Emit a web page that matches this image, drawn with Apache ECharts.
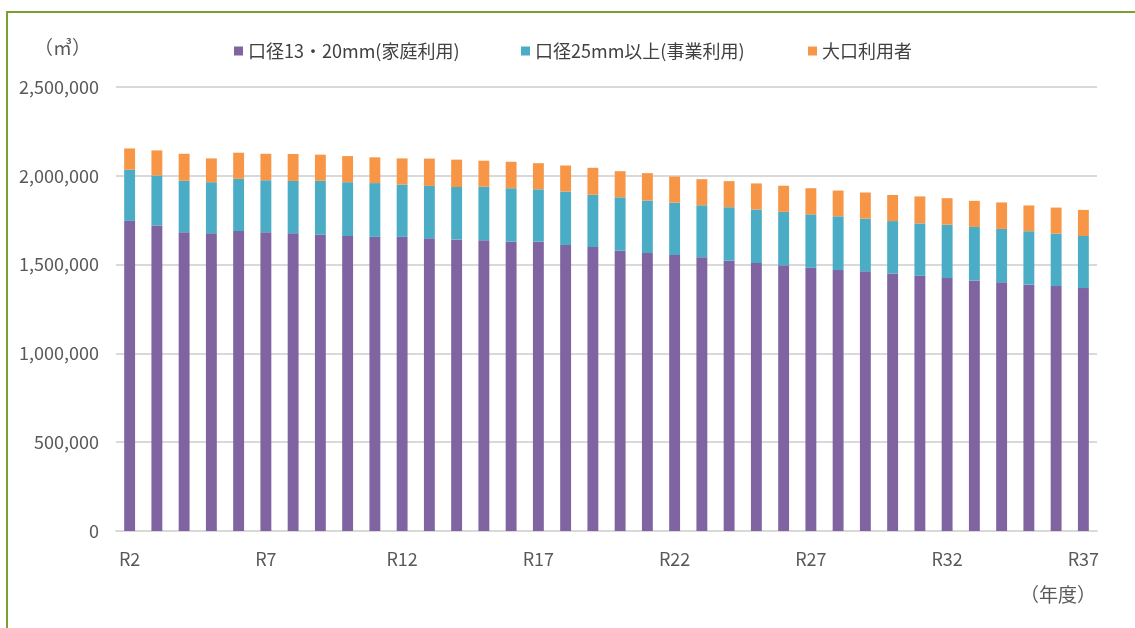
<!DOCTYPE html>
<html>
<head>
<meta charset="utf-8">
<script src="https://cdn.jsdelivr.net/npm/echarts@6/dist/echarts.min.js"></script>
<style>
  html, body { margin: 0; padding: 0; background: #fff; }
  #chart-container { width: 1135px; height: 628px; }
</style>
</head>
<body>
<div id="chart-container"></div>
<script>
// 年度 R2〜R37
const years = [];
for (let i = 2; i <= 37; i++) years.push("R" + i);

// 口径13・20mm(家庭利用)
const homeUse = [
  1746000, 1720000, 1682000, 1676000, 1689000, 1682000, 1676000, 1669000, 1661000, 1656000,
  1656000, 1648000, 1642000, 1637000, 1629000, 1629000, 1610000, 1599000, 1578000, 1565000,
  1554000, 1541000, 1522000, 1509000, 1496000, 1482000, 1469000, 1462000, 1450000, 1437000,
  1424000, 1411000, 1400000, 1387000, 1379000, 1368000
];
// 口径25mm以上(事業利用)
const businessUse = [
  288000, 282000, 290000, 288000, 294000, 293000, 295000, 303000, 303000, 303000,
  295000, 295000, 295000, 301000, 301000, 295000, 301000, 294000, 301000, 296000,
  295000, 293000, 301000, 301000, 301000, 301000, 303000, 297000, 295000, 295000,
  301000, 301000, 301000, 301000, 295000, 293000
];
// 大口利用者
const largeUse = [
  120000, 141000, 152000, 134000, 147000, 149000, 152000, 147000, 147000, 145000,
  147000, 154000, 154000, 147000, 149000, 147000, 147000, 152000, 147000, 154000,
  147000, 147000, 147000, 147000, 147000, 147000, 145000, 147000, 147000, 152000,
  149000, 147000, 149000, 145000, 147000, 147000
];

const seriesNames = ["口径13・20mm(家庭利用)", "口径25mm以上(事業利用)", "大口利用者"];
const colors = ["#8064A2", "#4BACC6", "#F79646"];
const legendLeft = [229, 516, 803];
const font = "'Noto Sans CJK JP', 'Noto Sans', sans-serif";

const chart = echarts.init(document.getElementById("chart-container"));

const option = {
  animation: false,
  color: colors,
  textStyle: { fontFamily: font },
  // 凡例は項目ごとに位置を合わせる
  legend: seriesNames.map((name, i) => ({
    top: 37,
    left: legendLeft[i],
    itemWidth: 9,
    itemHeight: 9,
    icon: "rect",
    textStyle: { color: "#404040", fontSize: 18, fontFamily: font },
    data: [name],
  })),
  grid: {
    left: 116,
    right: 38,
    top: 87,
    bottom: 97,
  },
  xAxis: {
    type: "category",
    data: years,
    axisLine: { lineStyle: { color: "#d9d9d9", width: 2 } },
    axisTick: { show: false },
    axisLabel: {
      interval: 4,
      color: "#595959",
      fontSize: 18,
      margin: 19,
      fontFamily: font,
    },
  },
  yAxis: {
    type: "value",
    min: 0,
    max: 2500000,
    interval: 500000,
    axisLine: { show: false },
    axisTick: { show: false },
    axisLabel: {
      color: "#595959",
      fontSize: 18,
      margin: 17,
      fontFamily: font,
      formatter: (v) => v.toLocaleString("en-US"),
    },
    splitLine: { lineStyle: { color: "#d9d9d9", width: 2 } },
  },
  series: [
    { name: seriesNames[0], type: "bar", stack: "total", barWidth: "40%", data: homeUse },
    { name: seriesNames[1], type: "bar", stack: "total", barWidth: "40%", data: businessUse },
    { name: seriesNames[2], type: "bar", stack: "total", barWidth: "40%", data: largeUse },
  ],
  graphic: [
    {
      type: "polyline",
      shape: { points: [[7, 628], [7, 12], [1135, 12]] },
      style: { stroke: "#77A22F", lineWidth: 2, fill: null },
    },
    {
      type: "text",
      left: 34,
      top: 38,
      style: { text: "（㎥）", fill: "#595959", fontSize: 19, fontFamily: font },
    },
    {
      type: "text",
      left: 1020,
      top: 585,
      style: { text: "（年度）", fill: "#595959", fontSize: 19, fontFamily: font },
    },
  ],
};

chart.setOption(option);
</script>
</body>
</html>
